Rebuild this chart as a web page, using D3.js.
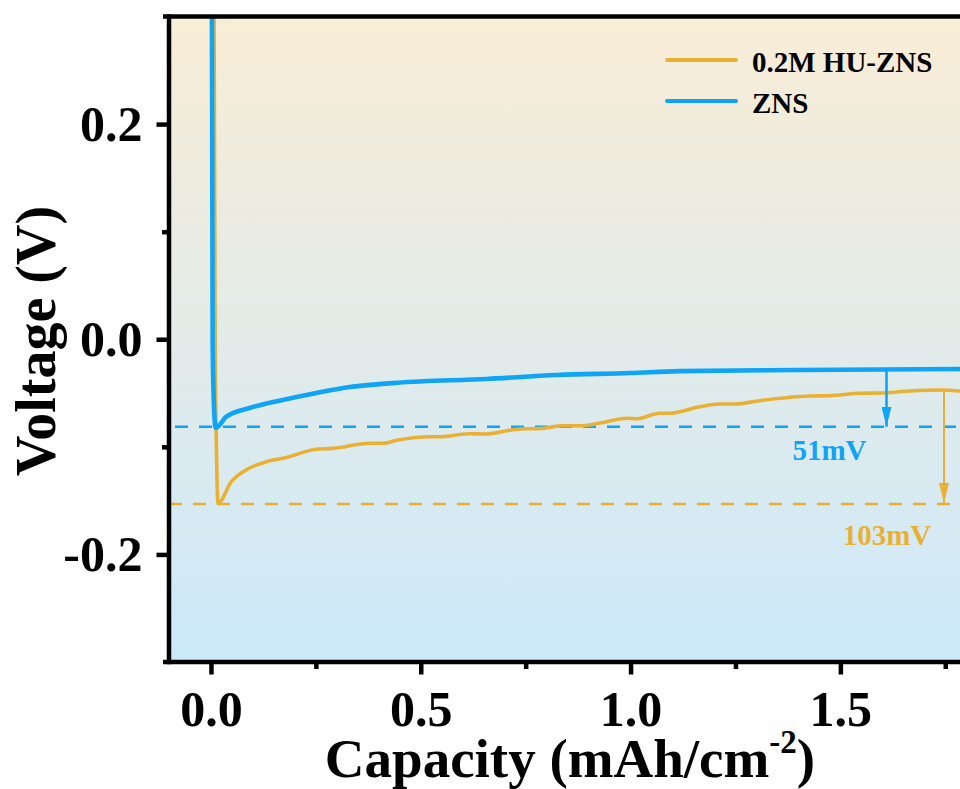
<!DOCTYPE html>
<html>
<head>
<meta charset="utf-8">
<script src="https://cdn.jsdelivr.net/npm/d3@7"></script>
<style>
  body { margin: 0; background: #fff; }
  svg { display: block; }
  text { font-family: "Liberation Serif", "Times New Roman", serif; font-weight: bold; }
</style>
</head>
<body>
<svg id="chart" width="960" height="789"></svg>
<script>
// ---------- data ----------
const seriesNames = ["0.2M HU-ZNS", "ZNS"];
const seriesColors = ["#e9b134", "#0fa4f6"];

const znsCap = [0.002, 0.004, 0.007, 0.011, 0.0367, 0.0922, 0.171, 0.251, 0.331, 0.426, 0.445, 0.657, 0.824, 0.998, 1.117, 1.403, 1.784, 1.9];
const znsV   = [0.35, 0.0, -0.06, -0.0822, -0.072, -0.0639, -0.0565, -0.050, -0.0444, -0.041, -0.0404, -0.0369, -0.0332, -0.0314, -0.0296, -0.0286, -0.0277, -0.0275];

const huCap = [0.007, 0.010, 0.013, 0.0167, 0.0486, 0.0922, 0.132, 0.1716, 0.251, 0.2908, 0.378, 0.41, 0.4457, 0.521, 0.545, 0.6165, 0.6523, 0.7359, 0.7836, 0.8384, 0.886, 0.9431, 0.9908, 1.0146, 1.0694, 1.0932, 1.1648, 1.2124, 1.2482, 1.3078, 1.4268, 1.4745, 1.546, 1.5936, 1.665, 1.7486, 1.784, 1.9];
const huV   = [0.35, 0.0, -0.10, -0.1525, -0.1324, -0.1197, -0.1138, -0.1107, -0.1023, -0.1014, -0.0967, -0.0967, -0.0937, -0.0906, -0.0906, -0.0878, -0.0881, -0.0834, -0.0831, -0.0804, -0.0804, -0.0766, -0.0735, -0.0739, -0.0688, -0.0688, -0.0627, -0.0602, -0.0602, -0.0571, -0.0528, -0.0525, -0.0502, -0.0500, -0.0481, -0.0472, -0.0481, -0.048];

// reference (minimum) levels and annotations
const refLevels = [-0.1531, -0.0813];          // HU-ZNS, ZNS
const arrowCap  = [1.747, 1.61];               // HU-ZNS, ZNS
const arrowTop  = [-0.0472, -0.0285];
const annoText  = ["103mV", "51mV"];
const annoCap   = [1.611, 1.474];
const annoV     = [-0.191, -0.1123];

const xMajor = [0.0, 0.5, 1.0, 1.5];
const xMinor = [0.25, 0.75, 1.25, 1.75];
const yMajor = [-0.2, 0.0, 0.2];
const yMinor = [-0.1, 0.1];
const xTitle = "Capacity (mAh/cm";
const xTitleSup = "-2";
const yTitle = "Voltage (V)";

// ---------- layout ----------
const svg = d3.select("#chart");
const L = 169, T = 16.5, B = 662;
const pxPerUnit = 419.6;
const x = d3.scaleLinear().domain([-0.1, 2.0]).range([L, L + 2.1 * pxPerUnit]);
const y = d3.scaleLinear().domain([-0.3, 0.3]).range([B, T]);
const R = x.range()[1];
const fmt = d => d3.format(".1f")(d).replace("\u2212", "-");

const defs = svg.append("defs");
const grad = defs.append("linearGradient").attr("id", "bg")
  .attr("x1", 0).attr("y1", 0).attr("x2", 0).attr("y2", 1);
grad.append("stop").attr("offset", "0%").attr("stop-color", "#f9edd6");
grad.append("stop").attr("offset", "100%").attr("stop-color", "#cce9fb");

defs.append("clipPath").attr("id", "clip").append("rect")
  .attr("x", L).attr("y", T).attr("width", R - L).attr("height", B - T);

seriesColors.forEach((c, i) => {
  defs.append("marker").attr("id", "arrow" + i)
    .attr("viewBox", "0 0 10 20").attr("refX", 5).attr("refY", 20)
    .attr("markerWidth", 10).attr("markerHeight", 20)
    .attr("markerUnits", "userSpaceOnUse").attr("orient", "0")
    .append("path").attr("d", "M0,0 L10,0 L5,20 Z").attr("fill", c);
});

svg.append("rect").attr("x", L).attr("y", T).attr("width", R - L).attr("height", B - T)
  .attr("fill", "url(#bg)");

const plot = svg.append("g").attr("clip-path", "url(#clip)");

// dashed reference lines
const dashStart = [L, L + 6];
refLevels.forEach((v, i) => {
  plot.append("line")
    .attr("x1", dashStart[i]).attr("x2", R)
    .attr("y1", y(v)).attr("y2", y(v))
    .attr("stroke", seriesColors[i]).attr("stroke-width", 2.6)
    .attr("stroke-dasharray", "13,11");
});

// curves
const line = d3.line().x(d => x(d[0])).y(d => y(d[1])).curve(d3.curveMonotoneX);
const huData = huCap.map((c, i) => [c, huV[i]]);
const znsData = znsCap.map((c, i) => [c, znsV[i]]);
plot.append("path").datum(huData).attr("d", line)
  .attr("fill", "none").attr("stroke", seriesColors[0]).attr("stroke-width", 3.6)
  .attr("stroke-linejoin", "round");
plot.append("path").datum(znsData).attr("d", line)
  .attr("fill", "none").attr("stroke", seriesColors[1]).attr("stroke-width", 4.6)
  .attr("stroke-linejoin", "round");

// arrows
const arrowTipOffset = [3, 4];
const arrowW = [2, 2.6];
arrowCap.forEach((c, i) => {
  plot.append("line")
    .attr("x1", x(c)).attr("x2", x(c))
    .attr("y1", y(arrowTop[i])).attr("y2", y(refLevels[i]) + arrowTipOffset[i] - 4)
    .attr("stroke", seriesColors[i]).attr("stroke-width", arrowW[i])
    .attr("marker-end", "url(#arrow" + i + ")");
});

// annotation text
annoText.forEach((t, i) => {
  svg.append("text").attr("x", x(annoCap[i])).attr("y", y(annoV[i]))
    .attr("text-anchor", "middle").attr("font-size", 29)
    .attr("fill", seriesColors[i]).text(t);
});

// axes
const axW = 4.5;
function styleAxis(g) {
  g.select(".domain").remove();
  g.selectAll(".tick line").attr("stroke", "#000").attr("stroke-width", axW);
  g.selectAll(".tick text").attr("fill", "#000").attr("font-size", 50)
    .attr("font-family", "'Liberation Serif', 'Times New Roman', serif").attr("font-weight", "bold");
}
svg.append("g").attr("transform", `translate(0,${B})`)
  .call(d3.axisBottom(x).tickValues(xMajor).tickSize(12.5).tickPadding(16).tickFormat(fmt))
  .call(styleAxis);
svg.append("g").attr("transform", `translate(0,${B})`)
  .call(d3.axisBottom(x).tickValues(xMinor).tickSize(7).tickFormat(""))
  .call(styleAxis);
svg.append("g").attr("transform", `translate(${L},0)`)
  .call(d3.axisLeft(y).tickValues(yMajor).tickSize(12.5).tickPadding(14).tickFormat(fmt))
  .call(styleAxis);
svg.append("g").attr("transform", `translate(${L},0)`)
  .call(d3.axisLeft(y).tickValues(yMinor).tickSize(7).tickFormat(""))
  .call(styleAxis);

// frame lines
svg.append("line").attr("x1", L).attr("x2", L).attr("y1", T - 2.2).attr("y2", B + 2.2)
  .attr("stroke", "#000").attr("stroke-width", axW);
svg.append("line").attr("x1", L - 6).attr("x2", R).attr("y1", B).attr("y2", B)
  .attr("stroke", "#000").attr("stroke-width", axW);
svg.append("line").attr("x1", L - 6).attr("x2", R).attr("y1", T).attr("y2", T)
  .attr("stroke", "#000").attr("stroke-width", axW);

// axis titles
const xt = svg.append("text").attr("x", 570).attr("y", 777)
  .attr("text-anchor", "middle").attr("font-size", 55).attr("fill", "#000");
xt.append("tspan").text(xTitle);
xt.append("tspan").attr("font-size", 33).attr("dy", -24).text(xTitleSup);
xt.append("tspan").attr("dy", 24).text(")");

svg.append("text").attr("transform", "translate(55,341) rotate(-90)")
  .attr("text-anchor", "middle").attr("font-size", 56).attr("fill", "#000").text(yTitle);

// legend
const legendY = [60, 101];
seriesNames.forEach((n, i) => {
  svg.append("line").attr("x1", 667).attr("x2", 736).attr("y1", legendY[i]).attr("y2", legendY[i])
    .attr("stroke", seriesColors[i]).attr("stroke-width", 4).attr("stroke-linecap", "round");
  svg.append("text").attr("x", 752).attr("y", legendY[i] + 12)
    .attr("font-size", 29).attr("fill", "#000").text(n);
});
</script>
</body>
</html>
